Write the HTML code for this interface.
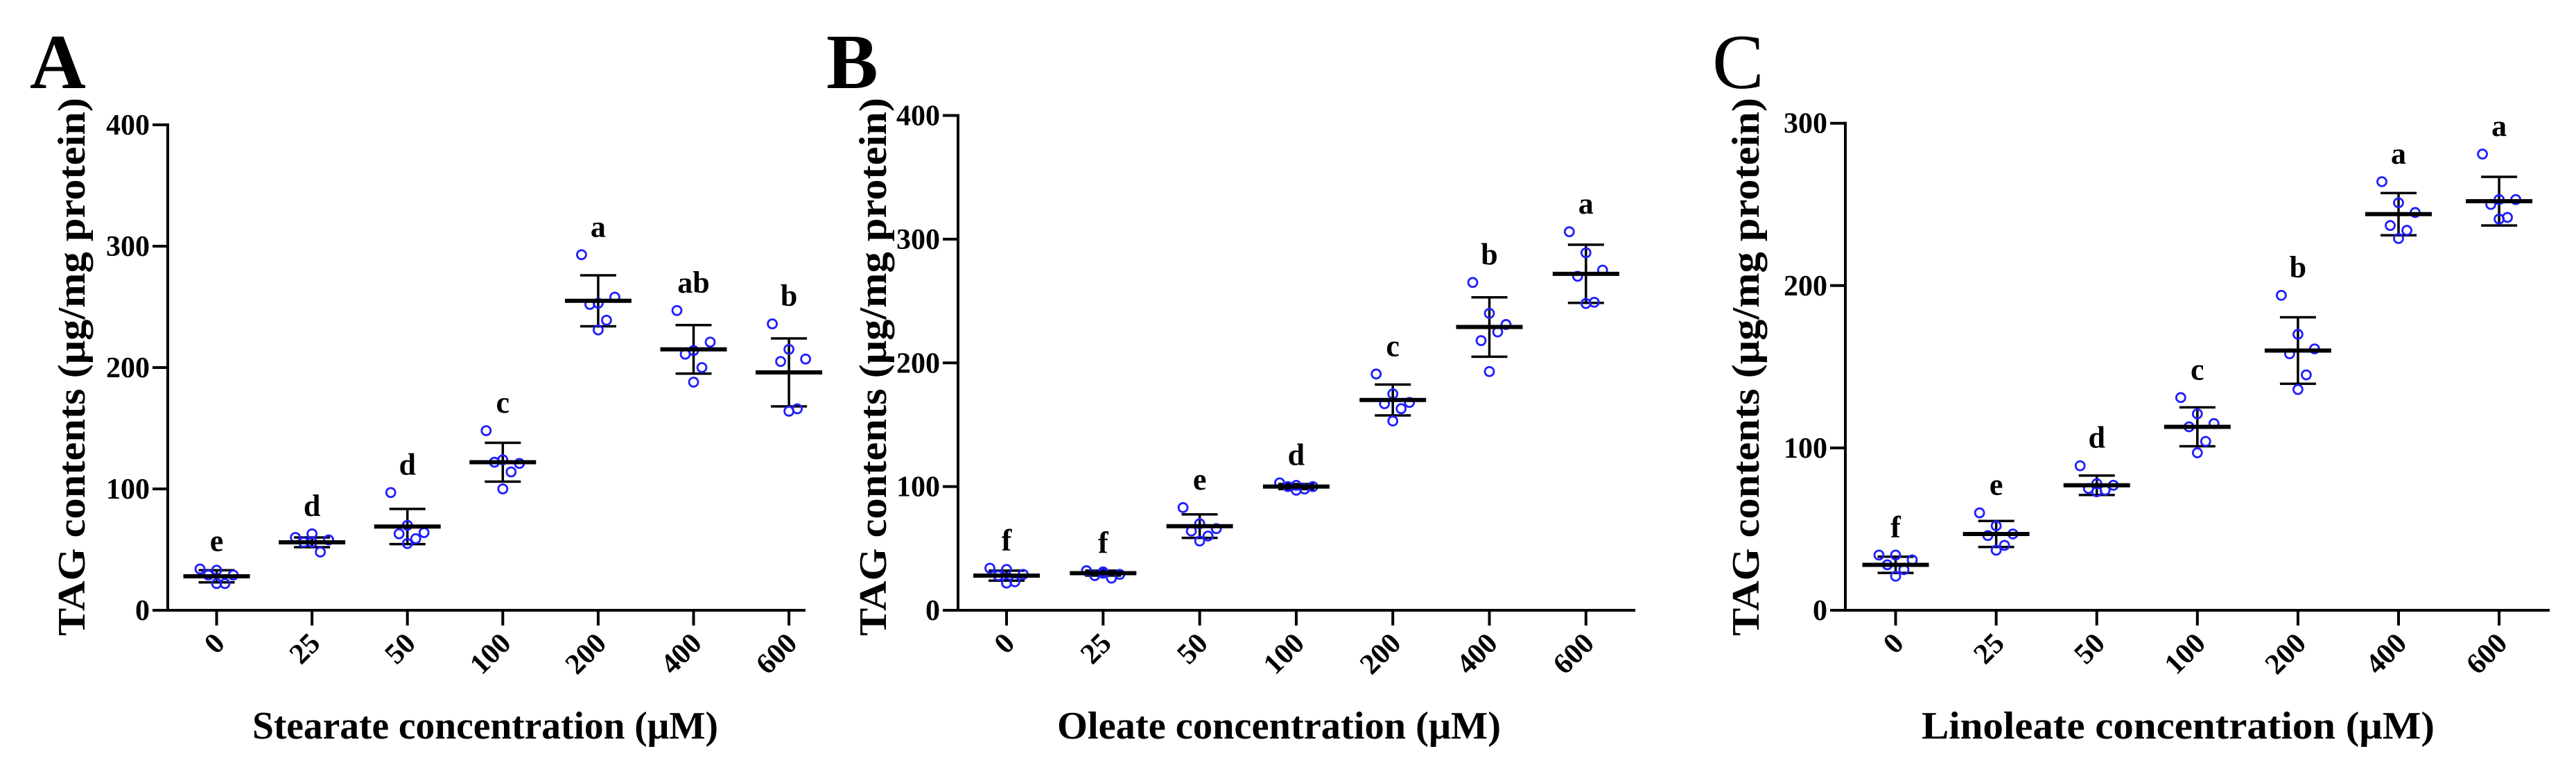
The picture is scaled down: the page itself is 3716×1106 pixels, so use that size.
<!DOCTYPE html>
<html><head><meta charset="utf-8"><style>
html,body{margin:0;padding:0;background:#fff;}
svg{display:block;font-family:"Liberation Serif",serif;}
text{font-family:"Liberation Serif",serif;}
</style></head><body>
<svg id="fig" width="3716" height="1106" viewBox="0 0 3716 1106" xmlns="http://www.w3.org/2000/svg" font-family="Liberation Serif, serif"></svg>
<script>
const categories = ["0","25","50","100","200","400","600"];
// Panel A: Stearate
const stearatePoints = [[34,33,29,29,22,22],[60,63,58,56,48,56],[97,70,64,63,59,55],[148,124,121,122,114,100],[293,253,258,252,239,231],[247,214,221,211,200,188],[236,215,207,205,166,164]];
const stearateMeans = [28,56,69,122,255,215,196];
const stearateSD = [5,4,14.5,16,21,20,28];
const stearateLetters = ["e","d","d","c","a","ab","b"];
const stearateTicks = [0,100,200,300,400];
// Panel B: Oleate
const oleatePoints = [[34,33,29,28,23,22],[32,30,29,28,26,31],[83,70,66,64,60,56],[103,101,100,100,98,97],[191,175,168,167,163,153],[265,240,231,218,225,193],[306,289,275,270,249,248]];
const oleateMeans = [28,30,68,100,170,229,272];
const oleateSD = [4,2,9.5,2,12.5,24,23.5];
const oleateLetters = ["f","f","e","d","c","b","a"];
const oleateTicks = [0,100,200,300,400];
// Panel C: Linoleate
const linoleatePoints = [[34,34,31,28,25,21],[60,52,47,46,40,37],[89,78,77,75,74,73],[131,121,115,113,104,97],[194,170,161,158,145,136],[264,251,245,237,234,229],[281,253,253,250,242,241]];
const linoleateMeans = [28,47,77,113,160,244,252];
const linoleateSD = [5,8,6,12,20.5,13,15];
const linoleateLetters = ["f","e","d","c","b","a","a"];
const linoleateTicks = [0,100,200,300];

const NS = "http://www.w3.org/2000/svg";
const svg = document.getElementById("fig");
function mk(tag, attrs, parent){
  const e = document.createElementNS(NS, tag);
  for (const k in attrs) e.setAttribute(k, attrs[k]);
  if (tag === "text") e.setAttribute("font-family", "Liberation Serif, serif");
  (parent||svg).appendChild(e);
  return e;
}
const jitter = [-24, 0, 24, -12, 12, 0];

function panel(cfg){
  const g = mk("g", {});
  
  
  const x0 = cfg.axisX, x1 = cfg.axisEnd, yBase = 880, yTop = cfg.yTop, vmax = cfg.ticks[cfg.ticks.length-1];
  const ys = v => yBase - (v / vmax) * (yBase - yTop);
  const xs = i => cfg.firstX + i * cfg.step;

  const letter = mk("text", {x: cfg.letterX, y: 127, "font-size": 112, "font-weight": cfg.letterWeight, fill: "#000"}, g);
  letter.textContent = cfg.letter;
  
  

  const yax = mk("line", {x1: x0, y1: yTop - 2, x2: x0, y2: yBase + 2, stroke: "#000", "stroke-width": 4}, g);
  
  
  const xax = mk("line", {x1: x0 - 22, y1: yBase, x2: x1, y2: yBase, stroke: "#000", "stroke-width": 4}, g);
  
  

  cfg.ticks.forEach(t => {
    const y = ys(t);
    const tl = mk("line", {x1: x0 - 22, y1: y, x2: x0, y2: y, stroke: "#000", "stroke-width": 4}, g);
    
    
    const tx = mk("text", {x: x0 - 26, y: y + 14, "text-anchor": "end", "font-size": 42, "font-weight": "bold"}, g);
    tx.textContent = String(t);
    
    
  });

  categories.forEach((c, i) => {
    const x = xs(i);
    const tl = mk("line", {x1: x, y1: yBase, x2: x, y2: yBase + 22, stroke: "#000", "stroke-width": 4}, g);
    
    
    const tx = mk("text", {x: x + 14, y: 930, "text-anchor": "end", "font-size": 42, "font-weight": "bold", transform: `rotate(-45 ${x + 14} 930)`}, g);
    tx.textContent = c;
    
    

    const m = cfg.means[i], sd = cfg.sd[i];
    const eb = mk("line", {x1: x, y1: ys(m + sd), x2: x, y2: ys(m - sd), stroke: "#000", "stroke-width": 3.5}, g);
    
    
    [m + sd, m - sd].forEach(v => {
      const cap = mk("line", {x1: x - 26, y1: ys(v), x2: x + 26, y2: ys(v), stroke: "#000", "stroke-width": 3.5}, g);
      
      
    });
    cfg.points[i].forEach((v, j) => {
      const pt = mk("circle", {cx: x + jitter[j], cy: ys(v), r: 6.5, fill: "none", stroke: "#1f1fff", "stroke-width": 2.8}, g);
      
      
    });
    const ml = mk("line", {x1: x - 48, y1: ys(m), x2: x + 48, y2: ys(m), stroke: "#000", "stroke-width": 6}, g);
    
    
    const top = Math.max(Math.max.apply(null, cfg.points[i]), m + sd);
    const lt = mk("text", {x: x, y: ys(top) - 26, "text-anchor": "middle", "font-size": 44, "font-weight": "bold"}, g);
    lt.textContent = cfg.letters[i];
    
    
  });

  const yt = mk("text", {x: 0, y: 0, "text-anchor": "middle", "font-size": 56, "font-weight": "bold", textLength: 776, lengthAdjust: "spacingAndGlyphs", transform: `translate(${cfg.yTitleX} 529) rotate(-90)`}, g);
  yt.textContent = "TAG contents (μg/mg protein)";
  
  
  const xt = mk("text", {x: cfg.xTitleX, y: 1065, "text-anchor": "middle", "font-size": 56, "font-weight": "bold", textLength: cfg.xTitleLen, lengthAdjust: "spacingAndGlyphs"}, g);
  xt.textContent = cfg.xTitle;
  
  
}

panel({name: "panel-a-stearate", letter: "A", letterX: 43, letterWeight: "bold", axisX: 242, axisEnd: 1162, yTop: 180, firstX: 312.5, step: 137.6, ticks: stearateTicks, points: stearatePoints, means: stearateMeans, sd: stearateSD, letters: stearateLetters, yTitleX: 122, xTitleX: 700, xTitleLen: 672, xTitle: "Stearate concentration (μM)"});
panel({name: "panel-b-oleate", letter: "B", letterX: 1192, letterWeight: "bold", axisX: 1382, axisEnd: 2359, yTop: 166.5, firstX: 1452, step: 139.3, ticks: oleateTicks, points: oleatePoints, means: oleateMeans, sd: oleateSD, letters: oleateLetters, yTitleX: 1278, xTitleX: 1845, xTitleLen: 640, xTitle: "Oleate concentration (μM)"});
panel({name: "panel-c-linoleate", letter: "C", letterX: 2470, letterWeight: "normal", axisX: 2662, axisEnd: 3678, yTop: 177.7, firstX: 2734.5, step: 145.1, ticks: linoleateTicks, points: linoleatePoints, means: linoleateMeans, sd: linoleateSD, letters: linoleateLetters, yTitleX: 2537, xTitleX: 3142, xTitleLen: 740, xTitle: "Linoleate concentration (μM)"});
</script>
</body></html>
